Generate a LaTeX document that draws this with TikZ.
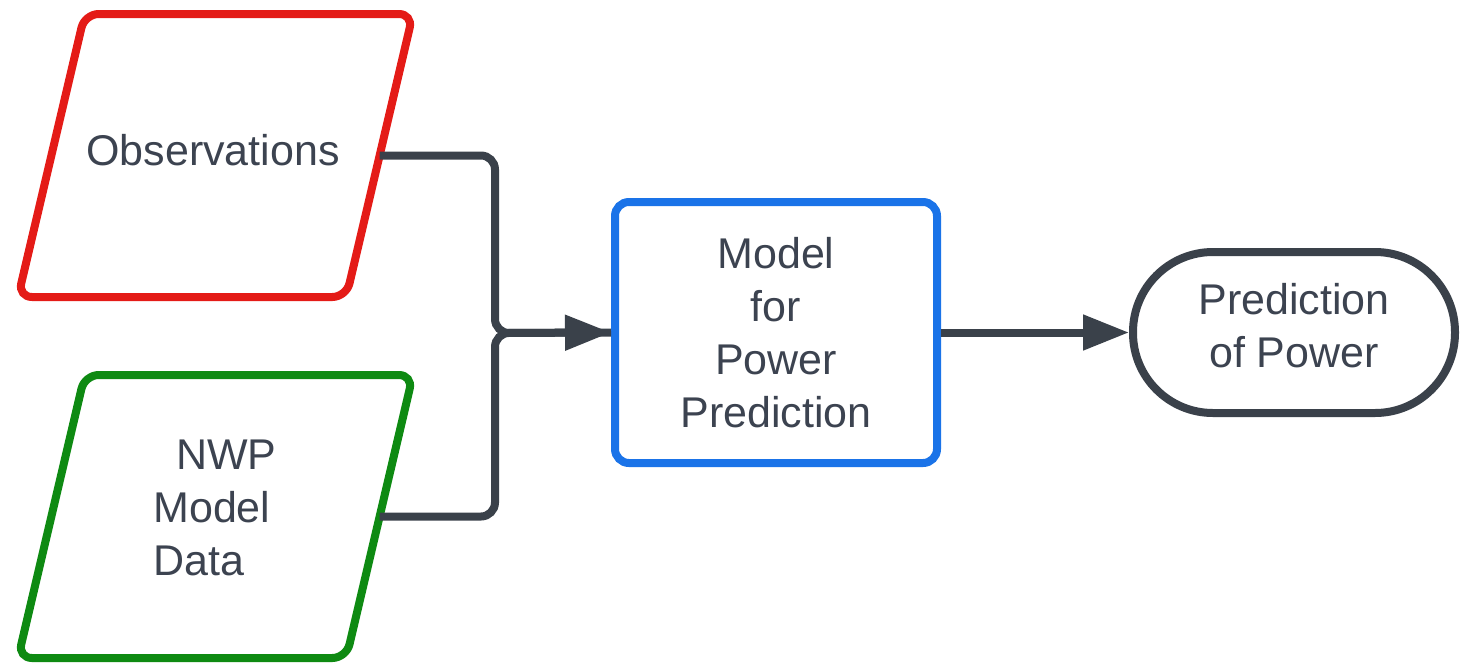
\documentclass[tikz,border=0pt]{standalone}
\usepackage{fontspec}
\setmainfont{Liberation Sans}
\usetikzlibrary{shapes.geometric,arrows.meta}
\definecolor{obsred}{HTML}{E41B17}
\definecolor{nwpgreen}{HTML}{0E8A12}
\definecolor{modblue}{HTML}{1A73E8}
\definecolor{darkgray}{HTML}{3A414A}
\definecolor{txtgray}{HTML}{3C4350}
\tikzset{
  para/.style={trapezium, trapezium left angle=75.7, trapezium right angle=104.3,
    trapezium stretches=true, minimum width=395pt, minimum height=283pt,
    inner sep=0pt, outer sep=0pt, line width=8pt, rounded corners=14pt, draw},
  txt/.style={text=txtgray, font=\fontsize{43}{53}\selectfont},
  conn/.style={draw=darkgray, line width=8pt, rounded corners=14pt},
  arr/.style={-{Triangle[length=46pt,width=34pt]}}
}
\begin{document}
\begin{tikzpicture}[x=1pt,y=-1pt]
\useasboundingbox (0,0) rectangle (1460,665);
\node[para, draw=obsred] (obs) at (215.5,155.5) {\phantom{\rule{100pt}{100pt}}};
\node[txt] (obstext) at (213,150) {Observations};
\node[para, draw=nwpgreen] (nwp) at (215.5,516.5) {\phantom{\rule{100pt}{100pt}}};
\node[txt, align=left] (nwptext) at (215,508) {\hspace*{23pt}NWP\\Model\\Data};
\node[draw=modblue, line width=8pt, rounded corners=14pt, minimum width=322pt, minimum height=261pt,
  txt, align=center] (mod) at (776,332.5) {Model\\for\\Power\\Prediction};
\node[draw=darkgray, line width=8pt, rounded corners=80pt, minimum width=322pt, minimum height=161pt] (pred) at (1294,332.5) {};
\node[txt, align=center] (predtext) at (1294,326) {Prediction\\of Power};
\coordinate (j) at (495,333);
\path[conn] (obs.east) -- (j |- obs.east) -- (j) -- (mod.west);
\path[conn, arr] (nwp.east) -- (j |- nwp.east) -- (j) -- (mod.west);
\path[conn, arr] (mod.east) -- (pred.west);
\end{tikzpicture}
\end{document}
